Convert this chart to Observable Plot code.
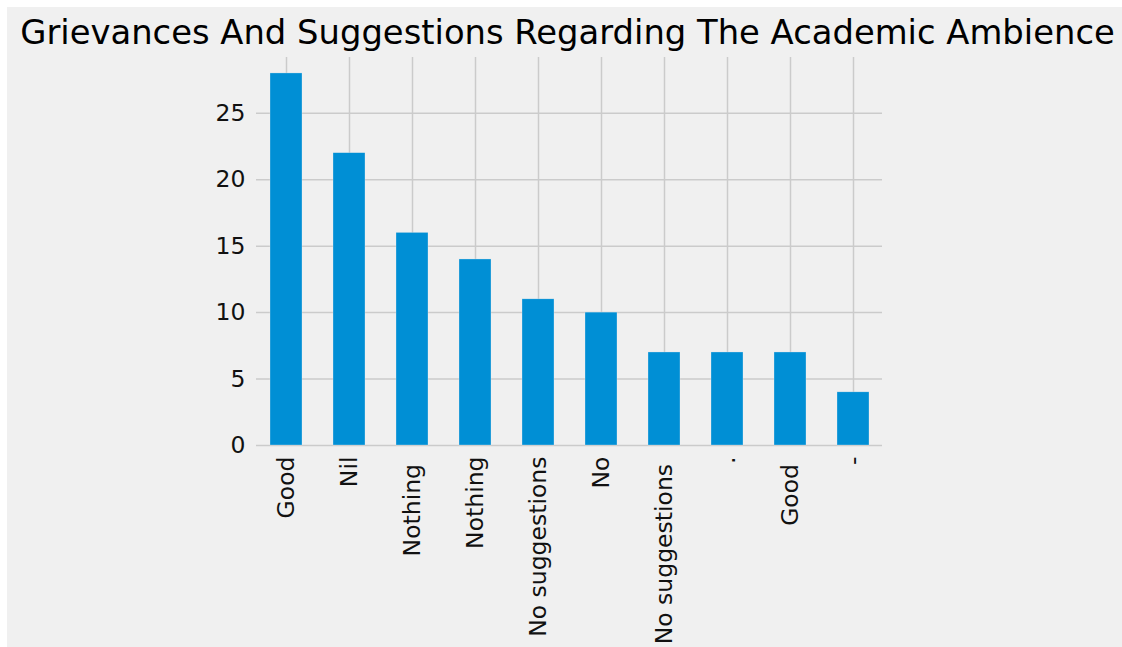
<!DOCTYPE html>
<html>
<head>
<meta charset="utf-8">
<script src="https://cdn.jsdelivr.net/npm/d3@7"></script>
<script src="https://cdn.jsdelivr.net/npm/@observablehq/plot@0.6"></script>
<style>
  html, body { margin: 0; padding: 0; background: #ffffff; width: 1122px; height: 647px; overflow: hidden; }
  #fig { position: absolute; left: 7px; top: 7px; width: 1115px; height: 640px; background: #f0f0f0; }
  #title { position: absolute; left: 0; top: 13px; width: 1135px; text-align: center;
           font-family: "DejaVu Sans", sans-serif; font-size: 33.8px; line-height: normal; color: #000; white-space: nowrap; }
  #chart { position: absolute; left: 7px; top: 7px; }
  #chart svg text { white-space: pre; }
</style>
</head>
<body>
<div id="fig"></div>
<div id="chart"></div>
<div id="title">Grievances And Suggestions Regarding The Academic Ambience</div>
<script>
const categories = ["Good", "Nil", "Nothing ", "Nothing", "No suggestions", "No", "No suggestions ", ".", "Good ", "-"];
const counts = [28, 22, 16, 14, 11, 10, 7, 7, 7, 4];
const yTicks = [0, 5, 10, 15, 20, 25];

const rows = categories.map((c, i) => ({idx: i, label: c, count: counts[i]}));

const chart = Plot.plot({
  width: 1115,
  height: 640,
  marginLeft: 249,
  marginRight: 240,
  marginTop: 50,
  marginBottom: 202,
  style: {fontFamily: "DejaVu Sans, sans-serif", fontSize: "23.5px", background: "transparent", color: "#000", overflow: "visible"},
  x: {type: "band", domain: rows.map(d => d.idx), paddingInner: 0.493, paddingOuter: 0.206},
  y: {domain: [0, 29.2]},
  marks: [
    Plot.gridX({stroke: "#cbcbcb", strokeOpacity: 1, strokeWidth: 1.5}),
    Plot.gridY(yTicks, {stroke: "#cbcbcb", strokeOpacity: 1, strokeWidth: 1.5}),
    Plot.barY(rows, {x: "idx", y: "count", fill: "#008fd5", stroke: "#f0f0f0", strokeWidth: 0.5, strokeOpacity: 0.6}),
    Plot.axisX({tickFormat: i => categories[i], tickRotate: -90, tickSize: 0, tickPadding: 11, label: null, fill: "#111"}),
    Plot.axisY(yTicks, {tickSize: 0, tickPadding: 11, label: null, fill: "#111"})
  ]
});
document.getElementById("chart").appendChild(chart);
</script>
</body>
</html>
